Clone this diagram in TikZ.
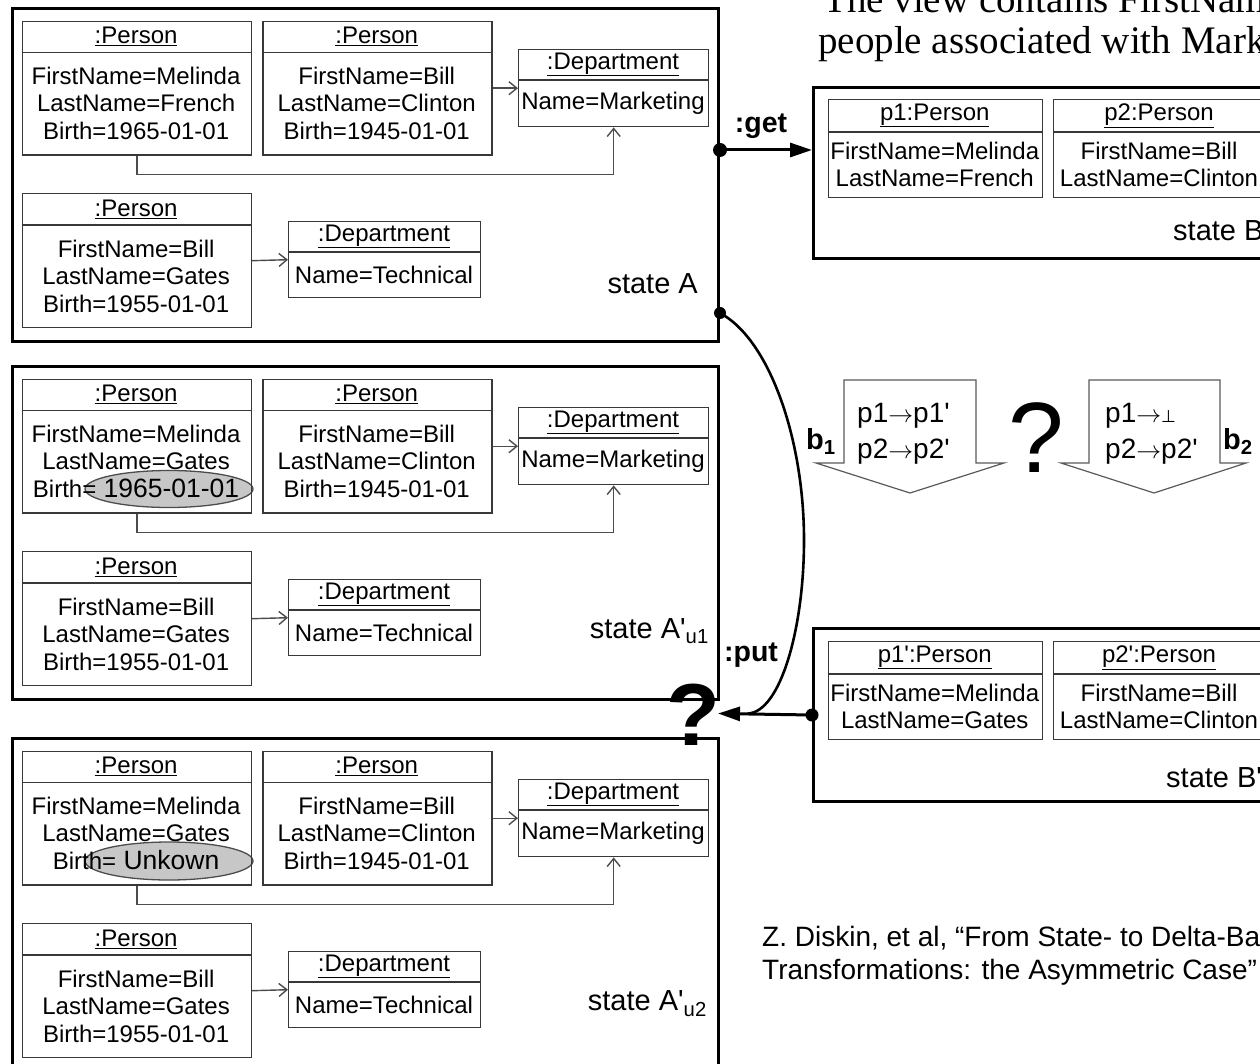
\documentclass[tikz,border=0pt]{standalone}
\usepackage{fontspec}
\setmainfont{Liberation Sans}
\newfontfamily\seriffont{Liberation Serif}
\newfontfamily\djvfont{DejaVu Sans}
\usetikzlibrary{arrows.meta}

% #1 name, #2 x left, #3 y top, #4 width, #5 height, #6 header height, #7 header, #8 body
\newcommand{\umlbox}[8]{%
  \node[ubox, minimum width=#4pt, minimum height=#5pt, anchor=north west] (#1) at (#2,#3) {};
  \draw[divline] (#2,#3+#6) -- (#2+#4,#3+#6);
  \node[utext] (#1-h) at (#2+#4/2,#3+#6/2) {\underline{#7}};
  \node[utext] (#1-b) at (#2+#4/2,#3+#6/2+#5/2) {#8};
}

% #1 prefix, #2 yshift, #3 person-1 body, #4 label, #5 label position, #6 extra drawing
\newcommand{\astate}[6]{%
\begin{scope}[yshift=-#2pt]
  #6
  \node[frame, minimum width=706pt, minimum height=333pt, anchor=north west] (#1-fr) at (11,7) {};
  \umlbox{#1-p1}{21.6}{20.7}{229}{133.6}{31.6}{:Person}{#3}
  \umlbox{#1-p2}{262.2}{20.7}{229}{133.6}{31.6}{:Person}{FirstName=Bill\\LastName=Clinton\\Birth=1945-01-01}
  \umlbox{#1-d1}{518}{49}{190}{77}{31}{:Department}{Name=Marketing}
  \umlbox{#1-p3}{21.6}{193}{229}{134}{32}{:Person}{FirstName=Bill\\LastName=Gates\\Birth=1955-01-01}
  \umlbox{#1-d2}{288}{221}{192}{76}{31}{:Department}{Name=Technical}
  \draw[assoc] (#1-p2.east) -- (#1-d1.west);
  \draw[assoc] (#1-p3.east) -- (#1-d2.west);
  \draw[assoc] (#1-p1.south) -- ++(0,18.7) -| (#1-d1.south);
  \node[lbl, anchor=base east] (#1-lbl) at #5 {#4};
\end{scope}}

\newcommand{\arr}{\ensuremath{\rightarrow}}

\begin{document}
\begin{tikzpicture}[x=1pt,y=-1pt,
  frame/.style={draw=black, line width=3pt, rectangle, inner sep=0pt},
  ubox/.style={draw=black!78, line width=1.4pt, rectangle, inner sep=0pt},
  divline/.style={draw=black!78, line width=1.4pt},
  utext/.style={font=\fontsize{24}{27.5}\selectfont, align=center, inner sep=0pt},
  btext/.style={font=\fontsize{28}{28}\selectfont, inner sep=0pt},
  assoc/.style={draw=black!70, line width=1.4pt, -{Straight Barb[length=8pt,width=13pt]}},
  bigarrow/.style={line width=3pt, -{Triangle[length=22pt,width=14pt]}},
  blockarrow/.style={draw=black!65, line width=1.2pt, line join=miter},
  ell/.style={fill=black!22, draw=black!70, line width=1.3pt},
  lbl/.style={font=\fontsize{29}{30}\selectfont, inner sep=0pt},
  bold/.style={font=\bfseries\fontsize{28.5}{28.5}\selectfont, inner sep=0pt}]
\useasboundingbox (0,0) rectangle (1260,1064);
\clip (0,0) rectangle (1260,1064);

% ---------- top text (cut off in the original) ----------
\node[font=\seriffont\fontsize{39}{41}\selectfont, anchor=base west, inner sep=0pt] (top1) at (823,13) {The view contains FirstNam};
\node[font=\seriffont\fontsize{39}{41}\selectfont, anchor=base west, inner sep=0pt] (top2) at (818,54) {people associated with Mark};

% ---------- source states ----------
\astate{A}{0}{FirstName=Melinda\\LastName=French\\Birth=1965-01-01}{state A}{(698,293.5)}{}
\astate{U}{358}{FirstName=Melinda\\LastName=Gates\\Birth={\fontsize{26.5}{27.5}\selectfont\ 1965-01-01}}{state A\textquotesingle\textsubscript{u1}}{(709,280.5)}{\filldraw[ell] (169,131) ellipse [x radius=84pt, y radius=18.5pt];}
\astate{V}{730}{FirstName=Melinda\\LastName=Gates\\Birth={\fontsize{26.5}{27.5}\selectfont\ Unkown}}{state A\textquotesingle\textsubscript{u2}}{(707,280.5)}{\filldraw[ell] (169,131) ellipse [x radius=84pt, y radius=19pt];}

% ---------- view state B ----------
\node[frame, minimum width=500pt, minimum height=171pt, anchor=north west] (B-fr) at (812,86) {};
\umlbox{B-p1}{827.5}{99}{214.5}{98}{33}{p1:Person}{FirstName=Melinda\\LastName=French}
\umlbox{B-p2}{1053}{99}{212}{98}{33}{p2:Person}{FirstName=Bill\\LastName=Clinton}
\node[lbl, anchor=base west] (B-lbl) at (1173,240.5) {state B};

% ---------- view state B' ----------
\node[frame, minimum width=500pt, minimum height=173pt, anchor=north west] (C-fr) at (812,627) {};
\umlbox{C-p1}{827.5}{641}{214.5}{98}{33}{p1\textquotesingle:Person}{FirstName=Melinda\\LastName=Gates}
\umlbox{C-p2}{1053}{641}{212}{98}{33}{p2\textquotesingle:Person}{FirstName=Bill\\LastName=Clinton}
\node[lbl, anchor=base west] (C-lbl) at (1166,787.5) {state B\textquotesingle};

% ---------- get ----------
\coordinate (getS) at (720,150);
\fill (getS) circle (7pt);
\draw[bigarrow] (getS) -- (getS -| B-fr.west);
\node[bold] (get) at (761,126) {:get};

% ---------- put ----------
\coordinate (putS) at (720,313);
\coordinate (putT) at (718,713.5);
\fill (putS) circle (6pt);
\fill (C-fr.west) circle (6.5pt);
\draw[line width=2.6pt] (putS) .. controls (770,340) and (804,440) .. (804,540) .. controls (804,630) and (780,712) .. (748,713.5);
\draw[bigarrow] (C-fr.west) -- (putT);
\node[bold] (put) at (751,655) {:put};
\node[font=\bfseries\fontsize{88}{88}\selectfont, inner sep=0pt] (qput) at (693,715) {?};

% ---------- delta block arrows ----------
\draw[blockarrow] (844,380) -- (976,380) -- (976,463) -- (1004,463) -- (910,493) -- (816,463) -- (844,463) -- cycle;
\draw[blockarrow] (1089,380) -- (1220,380) -- (1220,463) -- (1246,463) -- (1154,493) -- (1061,463) -- (1089,463) -- cycle;
\node[btext, anchor=base west] (b1a) at (857,422) {p1\arr p1\textquotesingle};
\node[btext, anchor=base west] (b1b) at (857,458) {p2\arr p2\textquotesingle};
\node[btext, anchor=base west] (b2a) at (1105,422) {p1\arr{\djvfont\fontsize{17}{17}\selectfont ⊥}};
\node[btext, anchor=base west] (b2b) at (1105,458) {p2\arr p2\textquotesingle};
\node[font=\bfseries\fontsize{29}{29}\selectfont, anchor=base west, inner sep=0pt] (b1) at (806,449) {b\textsubscript{1}};
\node[font=\bfseries\fontsize{29}{29}\selectfont, anchor=base west, inner sep=0pt] (b2) at (1223,449) {b\textsubscript{2}};
\node[font=\fontsize{100}{100}\selectfont, inner sep=0pt] (qmid) at (1036,438) {?};

% ---------- citation ----------
\node[font=\fontsize{28}{28}\selectfont, anchor=base west, inner sep=0pt] (cit1) at (762,946) {Z. Diskin, et al, “From State- to Delta-Based};
\node[font=\fontsize{28}{28}\selectfont, anchor=base west, inner sep=0pt] (cit2) at (762,979) {Transformations: the Asymmetric Case”};
\end{tikzpicture}
\end{document}
